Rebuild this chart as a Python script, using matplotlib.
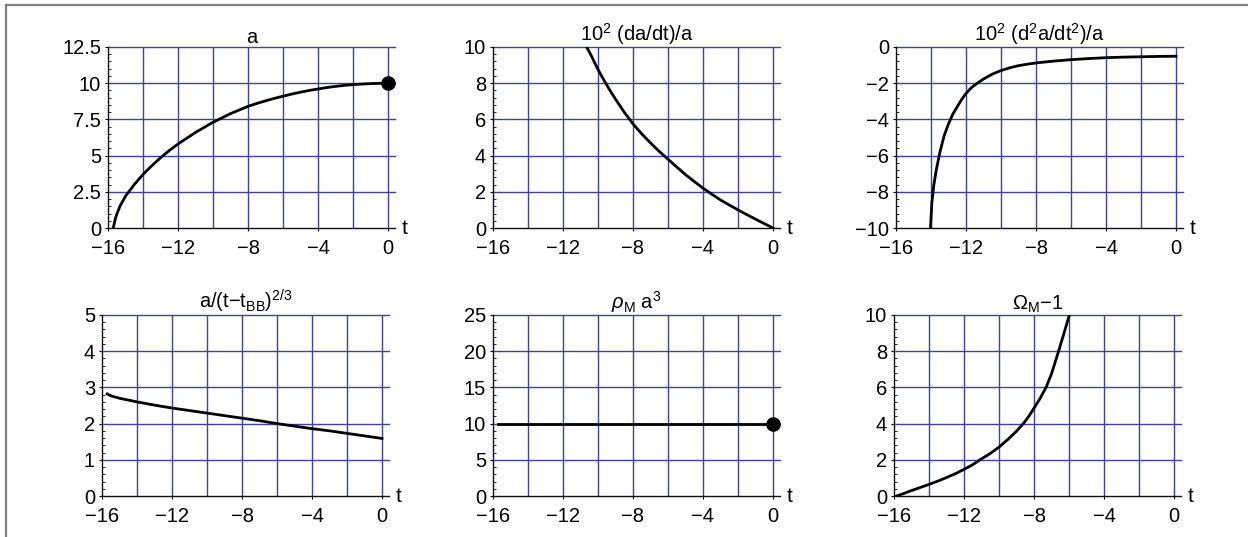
import numpy as np
import matplotlib
matplotlib.use("Agg")
import matplotlib.pyplot as plt
from matplotlib.ticker import MultipleLocator, AutoMinorLocator, FuncFormatter
from matplotlib.lines import Line2D

plt.rcParams['font.family'] = ['Liberation Sans', 'DejaVu Sans']
plt.rcParams['mathtext.fontset'] = 'custom'
plt.rcParams['mathtext.rm'] = 'Liberation Sans'
plt.rcParams['mathtext.it'] = 'Liberation Sans:italic'
plt.rcParams['mathtext.sf'] = 'Liberation Sans'

# --- values ---
t_a = [-15.7, -15.6, -15.5, -15.3, -15, -14.5, -14, -13.5, -13, -12.5, -12, -11.5, -11, -10.5,
       -10, -9.5, -9, -8.5, -8, -7.5, -7, -6.5, -6, -5.5, -5, -4.5, -4, -3.5, -3, -2.5,
       -2, -1.5, -1, -0.5, 0]
a_vals = [0, 0.55, 0.95, 1.55, 2.2, 3.0, 3.7, 4.3, 4.85, 5.35, 5.8, 6.2, 6.6, 6.95,
          7.3, 7.6, 7.9, 8.15, 8.4, 8.6, 8.78, 8.95, 9.1, 9.25, 9.38, 9.5, 9.6, 9.7, 9.78, 9.85,
          9.9, 9.94, 9.97, 9.99, 10.0]

t_h = [-10.65, -10.4, -10.2, -10, -9.75, -9.5, -9.25, -9, -8.5, -8, -7.5, -7, -6.5, -6,
       -5.5, -5, -4.5, -4, -3.5, -3, -2.5, -2, -1.5, -1, -0.5, 0]
h_vals = [10, 9.55, 9.15, 8.76, 8.32, 7.9, 7.5, 7.12, 6.4, 5.75, 5.2, 4.7, 4.23, 3.8,
          3.37, 2.95, 2.57, 2.2, 1.87, 1.55, 1.27, 1.0, 0.74, 0.49, 0.24, 0]

t_q = [-14.03, -13.95, -13.85, -13.7, -13.5, -13.25, -13.0, -12.75, -12.5, -12.25, -12,
       -11.7, -11.36, -11, -10.5, -10, -9.5, -9, -8.5, -8, -7, -6, -5, -4, -3, -2, -1, 0]
q_vals = [-10, -8.6, -7.7, -6.8, -5.85, -4.9, -4.25, -3.7, -3.3, -2.9, -2.57,
          -2.25, -2.0, -1.77, -1.5, -1.3, -1.15, -1.03, -0.95, -0.88, -0.78, -0.70, -0.64,
          -0.59, -0.56, -0.54, -0.52, -0.51]

t_r = [-15.7, -15.5, -15.3, -15, -14.5, -14, -13, -12, -11, -10, -9, -8, -7, -6, -5, -4, -3, -2, -1, 0]
r_vals = [2.82, 2.77, 2.74, 2.7, 2.65, 2.6, 2.51, 2.43, 2.36, 2.29, 2.22, 2.15, 2.08, 2.0,
          1.93, 1.86, 1.8, 1.73, 1.66, 1.59]

t_rho = [-15.7, 0]
rho_vals = [10, 10]

t_om = [-15.85, -15.5, -15, -14.5, -14, -13.5, -13, -12.5, -12, -11.5, -11.09, -10.5, -10,
        -9.5, -9, -8.61, -8.3, -8, -7.65, -7.31, -7, -6.61, -6.3, -5.98]
om_vals = [0, 0.12, 0.3, 0.47, 0.64, 0.82, 1.02, 1.23, 1.47, 1.73, 2.0, 2.35, 2.7,
           3.12, 3.58, 4.0, 4.4, 4.85, 5.4, 6.0, 6.75, 7.95, 8.95, 10.0]

titles = ["a", r"10$^2$ (da/dt)/a", r"10$^2$ (d$^2$a/dt$^2$)/a",
          r"a/(t$-$t$_{\mathrm{BB}}$)$^{2/3}$", r"$\rho_{\mathrm{M}}$ a$^3$", r"$\Omega_{\mathrm{M}}$$-$1"]
ylims = [(0, 12.5), (0, 10), (-10, 0), (0, 5), (0, 25), (0, 10)]
ysteps = [2.5, 2, 2, 1, 5, 2]
series = [(t_a, a_vals), (t_h, h_vals), (t_q, q_vals), (t_r, r_vals), (t_rho, rho_vals), (t_om, om_vals)]
dots = [True, False, False, False, True, False]

W, H = 1248, 537
fig = plt.figure(figsize=(W / 100, H / 100), dpi=100)

# axes boxes in pixels
lefts = [108, 493, 896, 102, 493, 894]
tops = [47, 47, 47, 315, 315, 315]
width_px = 287
height_px = 181

grid_col = '#4040a0'
fs = 14.5


def fmt(v, pos):
    return ('%g' % v).replace('-', '\u2212')


for i in range(6):
    l, tp = lefts[i], tops[i]
    ax = fig.add_axes([l / W, 1 - (tp + height_px) / H, width_px / W, height_px / H])
    ax.set_xlim(-16, 0.4)
    ax.set_ylim(*ylims[i])
    for s in ['top', 'right']:
        ax.spines[s].set_visible(False)
    for s in ['left', 'bottom']:
        ax.spines[s].set_linewidth(1.0)
        ax.spines[s].set_color('#111111')
    ax.xaxis.set_major_locator(MultipleLocator(4))
    ax.yaxis.set_major_locator(MultipleLocator(ysteps[i]))
    ax.yaxis.set_minor_locator(AutoMinorLocator(5))
    ax.xaxis.set_major_formatter(FuncFormatter(fmt))
    ax.yaxis.set_major_formatter(FuncFormatter(fmt))
    ax.tick_params(axis='both', which='major', labelsize=fs, length=2.5, width=0.8)
    ax.tick_params(axis='y', which='major', pad=2.5)
    ax.tick_params(axis='y', which='minor', direction='in', length=2.5, width=0.6)
    ax.tick_params(axis='x', which='major', pad=5.5)

    for xv in np.arange(-14, 0.1, 2):
        ax.axvline(xv, color=grid_col, lw=1.0, zorder=1)
    y0, y1 = ylims[i]
    for yv in np.arange(y0 + ysteps[i], y1 + 1e-9, ysteps[i]):
        ax.axhline(yv, color=grid_col, lw=1.0, zorder=1, clip_on=False)

    tt, vv = series[i]
    ax.plot(tt, vv, color='black', lw=2.0, zorder=3, solid_joinstyle='round')
    if dots[i]:
        ax.plot(tt[-1], vv[-1], 'o', color='black', ms=9.5, zorder=4, clip_on=False)

    ax.text(0.8, y0, 't', fontsize=fs + 0.5, ha='left', va='center', clip_on=False)
    ax.set_title(titles[i], fontsize=fs, pad=3)

# gray frame edges (top and left)
fig.add_artist(Line2D([6 / W, 6 / W], [0, 1 - 5 / H], color='#808080', lw=1.6))
fig.add_artist(Line2D([6 / W, 1], [1 - 5 / H, 1 - 5 / H], color='#808080', lw=1.6))

fig.savefig('out.png', dpi=100)
